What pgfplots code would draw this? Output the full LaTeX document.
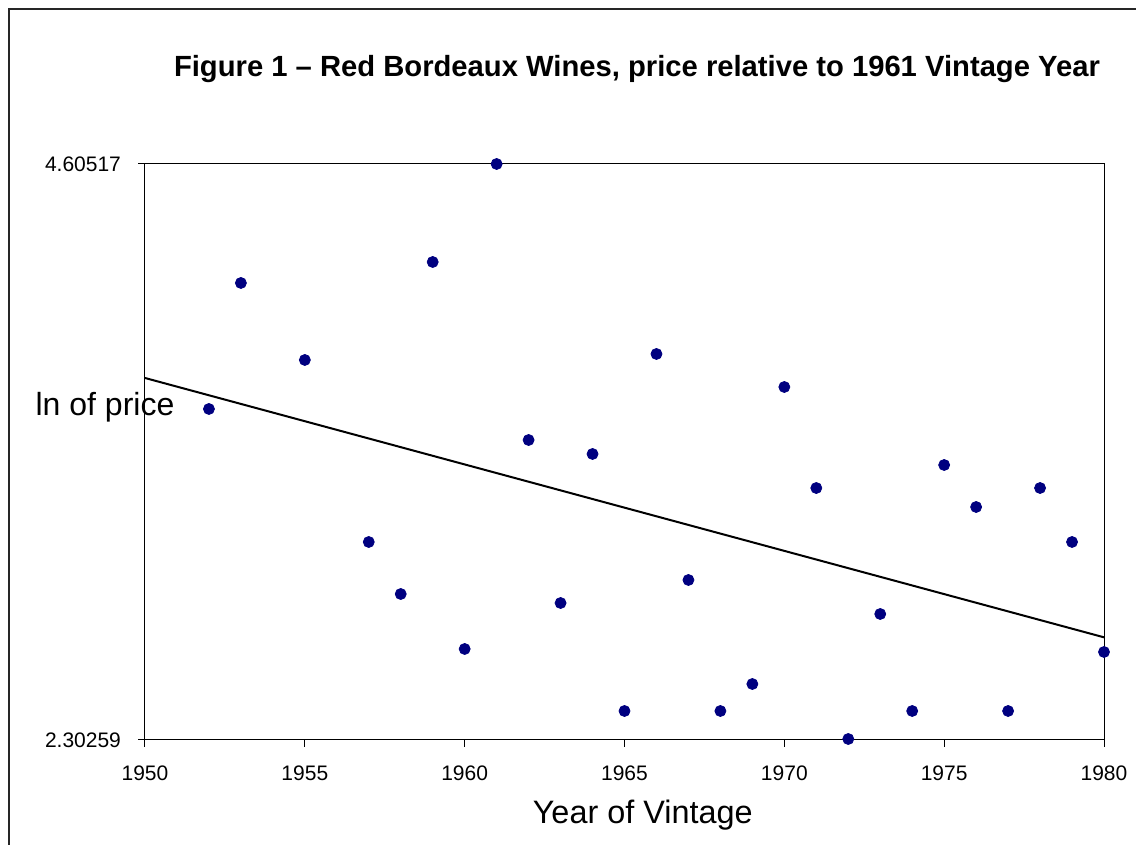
\documentclass[border=0pt]{standalone}
\usepackage{fontspec}
\setmainfont{Liberation Sans}
\usepackage{pgfplots}
\pgfplotsset{compat=1.18}
\definecolor{dotblue}{RGB}{0,0,128}
\begin{document}
\begin{tikzpicture}[x=1pt,y=1pt]
\useasboundingbox (0,0) rectangle (568,422.5);
\draw[line width=0.6pt,black!85] (4.5,0) -- (4.5,418) -- (568,418);
\begin{axis}[
  at={(72.5pt,52.5pt)}, anchor=south west,
  scale only axis, width=479.5pt, height=288pt,
  xmin=1950, xmax=1980, ymin=2.30259, ymax=4.60517,
  xtick={1950,1955,1960,1965,1970,1975,1980},
  xticklabels={1950,1955,1960,1965,1970,1975,1980},
  ytick={2.30259,4.60517},
  yticklabels={2.30259,4.60517},
  tick align=outside, major tick length=3.5pt,
  tick style={black, line width=0.5pt},
  xtick pos=bottom, ytick pos=left,
  axis line style={black, line width=0.5pt},
  ticklabel style={font=\fontsize{10.5}{12}\selectfont},
  xticklabel style={yshift=-6pt},
  yticklabel style={xshift=-5pt},
  clip=false,
  title={\bfseries Figure 1 -- Red Bordeaux Wines, price relative to 1961 Vintage Year},
  title style={font=\fontsize{14.6}{16}\selectfont, at={(axis description cs:0.513,1.1437)}, anchor=center},
  xlabel={Year of Vintage},
  xlabel style={font=\fontsize{16.2}{18}\selectfont, at={(axis description cs:0.519,-0.13)}, anchor=center},
  ylabel={ln of price},
  ylabel style={font=\fontsize{16}{18}\selectfont, rotate=-90, at={(axis description cs:-0.0417,0.578)}, anchor=center},
]
\addplot[only marks, mark=*, mark size=2.75pt, color=dotblue] coordinates {
(1952,3.6258) (1953,4.1295) (1955,3.8217) (1957,3.0941) (1958,2.8862)
(1959,4.2134) (1960,2.6664) (1961,4.60517) (1962,3.5018) (1963,2.8502)
(1964,3.4459) (1965,2.4185) (1966,3.8457) (1967,2.9422) (1968,2.4185)
(1969,2.5264) (1970,3.7137) (1971,3.3099) (1972,2.30659) (1973,2.8063)
(1974,2.4185) (1975,3.4019) (1976,3.2340) (1977,2.4185) (1978,3.3099)
(1979,3.0941) (1980,2.6544)
};
\addplot[black, line width=1pt] coordinates {(1950,3.7497) (1980,2.713)};
\end{axis}
\end{tikzpicture}
\end{document}
